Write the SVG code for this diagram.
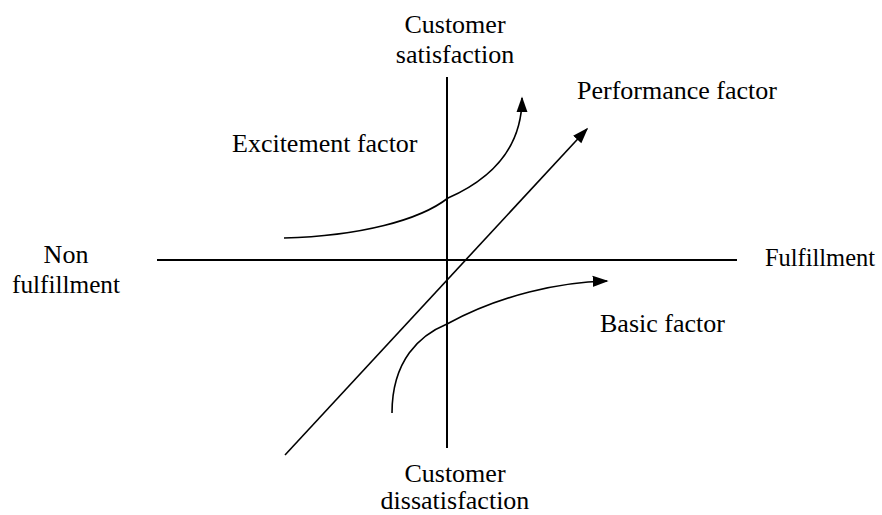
<svg xmlns="http://www.w3.org/2000/svg" width="882" height="515" viewBox="0 0 882 515">
<style>
text{font-family:"Liberation Serif","Times New Roman",serif;font-size:26px;fill:#000}
.ax{stroke:#000;stroke-width:2;fill:none}
.c{stroke:#000;stroke-width:1.6;fill:none}
</style>
<defs>
<marker id="ah2" viewBox="0 0 10 10" refX="9" refY="5" markerWidth="16" markerHeight="16" markerUnits="userSpaceOnUse" orient="auto">
<path d="M0,1.5 L10,5 L0,8.5 z" fill="#000"/>
</marker>
</defs>
<rect width="882" height="515" fill="#fff"/>
<g id="connectors">
<line class="ax" x1="447" y1="77" x2="447" y2="448"/>
<line class="ax" x1="157" y1="260" x2="737" y2="260"/>
<path class="c" d="M284,238 C360,236 420,220 448,198 C500,175 522,140 522,98" marker-end="url(#ah2)"/>
<line class="c" x1="285" y1="455" x2="587" y2="129" marker-end="url(#ah2)"/>
<path class="c" d="M392,413 C392,360 420,335 447,324 C500,295 560,282 607,281" marker-end="url(#ah2)"/>
</g>
<g id="label-satisfaction"><text x="455" y="33" text-anchor="middle">Customer</text><text x="455" y="63" text-anchor="middle">satisfaction</text></g>
<g id="label-performance"><text x="577" y="99">Performance factor</text></g>
<g id="label-excitement"><text x="232" y="152">Excitement factor</text></g>
<g id="label-nonfulfillment"><text x="66" y="263" text-anchor="middle">Non</text><text x="66" y="293" text-anchor="middle" textLength="108" lengthAdjust="spacingAndGlyphs">fulfillment</text></g>
<g id="label-fulfillment"><text x="765" y="266" textLength="110" lengthAdjust="spacingAndGlyphs">Fulfillment</text></g>
<g id="label-basic"><text x="600" y="332">Basic factor</text></g>
<g id="label-dissatisfaction"><text x="455" y="482" text-anchor="middle">Customer</text><text x="455" y="509" text-anchor="middle">dissatisfaction</text></g>
</svg>
